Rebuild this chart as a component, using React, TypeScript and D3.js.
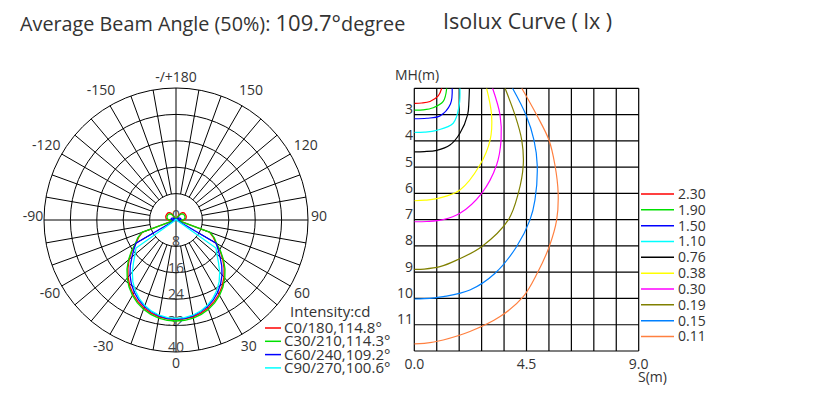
import React, { useEffect, useRef } from 'react';
import * as d3 from 'd3';

// ---- polar intensity data (cd, gamma measured from nadir, 5 degree steps) ----
const gammas = d3.range(0, 185, 5);
const c0 = [30.2, 30.1, 29.8, 29.2, 28.4, 27.3, 26.0, 24.4, 22.6, 20.6, 18.5, 16.3, 14.0, 12.5, 10.8,
  0.8, 0.8, 1.2, 2.2, 2.8, 3.1, 3.2, 3.3, 3.3, 3.3, 3.3, 3.3, 3.1, 2.9, 2.4, 1.6, 0.8, 0.4, 0.2, 0.1, 0.1, 0.1];
const c30 = [30.6, 30.5, 30.2, 29.6, 28.8, 27.7, 26.4, 24.8, 23.0, 21.0, 18.8, 16.5, 14.2, 12.8, 11.0,
  0.8, 0.7, 1.0, 1.8, 2.4, 2.7, 2.8, 2.9, 2.9, 2.9, 2.9, 2.8, 2.6, 2.3, 1.8, 1.2, 0.6, 0.3, 0.2, 0.1, 0.1, 0.1];
const c60 = [30.0, 29.9, 29.5, 28.8, 27.9, 26.7, 25.3, 23.6, 21.7, 19.6, 17.4, 15.6, 14.0,
  0.6, 0.5, 0.5, 0.5, 0.6, 1.0, 1.3, 1.5, 1.5, 1.4, 1.3, 1.1, 0.9, 0.7, 0.5, 0.4, 0.3, 0.2, 0.2, 0.1, 0.1, 0.1, 0.1, 0.1];
const c90 = [29.8, 29.7, 29.3, 28.6, 27.6, 26.3, 24.7, 22.8, 20.6, 18.2, 16.2, 14.8,
  0.5, 0.4, 0.3, 0.3, 0.3, 0.3, 0.3, 0.3, 0.3, 0.3, 0.2, 0.2, 0.2, 0.2, 0.2, 0.1, 0.1, 0.1, 0.1, 0.1, 0.1, 0.1, 0.1, 0.1, 0.1];
const polarSeries = [c0, c30, c60, c90];
const polarNames = ['C0/180,114.8°', 'C30/210,114.3°', 'C60/240,109.2°', 'C90/270,100.6°'];
const polarColors = ['#ff0000', '#00e000', '#0000ff', '#00ffff'];
const ringLabels = [0, 8, 16, 24, 32, 40];
const angleLabels = [0, 30, 60, 90, 120, 150, 180, -150, -120, -90, -60, -30];

// ---- isolux data: [S (m), MH (m)] ----
const lux230 = [[1.10, 2.0], [0.96, 2.29], [0.63, 2.5], [0.3, 2.56], [0, 2.57]];
const lux190 = [[1.30, 2.0], [1.16, 2.5], [0.76, 2.74], [0.35, 2.82], [0, 2.83]];
const lux150 = [[1.52, 2.0], [1.45, 2.6], [1.03, 3.05], [0.5, 3.14], [0, 3.16]];
const lux110 = [[1.83, 2.0], [1.80, 2.65], [1.56, 3.33], [0.9, 3.6], [0.4, 3.67], [0, 3.68]];
const lux076 = [[2.21, 2.0], [2.19, 2.5], [2.14, 3.0], [1.83, 3.71], [1.43, 4.16], [0.9, 4.36], [0.4, 4.41], [0, 4.42]];
const lux038 = [[2.90, 2.0], [3.10, 3.02], [3.04, 3.97], [2.63, 4.92], [1.83, 5.87], [1.0, 6.18], [0.43, 6.26], [0, 6.28]];
const lux030 = [[3.14, 2.0], [3.44, 3.02], [3.48, 3.97], [3.30, 4.92], [2.70, 6.0], [1.83, 6.76], [1.16, 7.0], [0.5, 7.07], [0, 7.08]];
const lux019 = [[3.64, 2.0], [4.04, 3.02], [4.31, 3.97], [4.37, 4.92], [4.17, 6.0], [3.77, 7.01], [2.70, 8.03], [1.70, 8.54], [1.03, 8.79], [0.4, 8.88], [0, 8.89]];
const lux015 = [[3.94, 2.0], [4.48, 3.02], [4.80, 3.97], [4.93, 4.92], [4.84, 6.25], [4.64, 7.01], [4.10, 8.03], [3.24, 9.04], [2.23, 9.68], [1.16, 9.93], [0.4, 10.01], [0, 10.02]];
const lux011 = [[4.31, 2.0], [4.91, 3.02], [5.40, 3.97], [5.64, 4.92], [5.77, 6.0], [5.71, 7.01], [5.41, 8.03], [4.93, 9.04], [4.37, 9.93], [3.44, 10.69], [2.23, 11.26], [1.16, 11.58], [0.4, 11.71], [0, 11.73]];
const isoluxCurves = [lux230, lux190, lux150, lux110, lux076, lux038, lux030, lux019, lux015, lux011];
const isoluxLevels = ['2.30', '1.90', '1.50', '1.10', '0.76', '0.38', '0.30', '0.19', '0.15', '0.11'];
const isoluxColors = ['#ff0000', '#00e000', '#0000ff', '#00ffff', '#000000', '#ffff00', '#ff00ff', '#808000', '#0080ff', '#ff8040'];
const mhTicks = [3, 4, 5, 6, 7, 8, 9, 10, 11];
const sTicks = [0, 4.5, 9];

const FONT = "'Open Sans', sans-serif";
const TEXT = '#333';

const App = () => {
  const ref = useRef<SVGSVGElement>(null);

  useEffect(() => {
    const svg = d3.select(ref.current);
    svg.selectAll('*').remove();

    // titles
    const title = svg.append('text')
      .attr('x', 20).attr('y', 31)
      .style('font-family', FONT).style('font-size', '19.8px').attr('fill', TEXT);
    title.append('tspan').text('Average Beam Angle (50%): ');
    title.append('tspan').style('font-size', '22px').text('109.7°');
    title.append('tspan').text('degree');

    svg.append('text')
      .attr('x', 443).attr('y', 29)
      .style('font-family', FONT).style('font-size', '21.5px').attr('fill', TEXT)
      .text('Isolux Curve ( lx )');

    // ---------- polar diagram ----------
    const cx = 176, cy = 220, R = 132;
    const rScale = d3.scaleLinear().domain([0, 40]).range([0, R]);
    const polar = svg.append('g').attr('transform', `translate(${cx},${cy})`);

    ringLabels.slice(1).forEach(v => {
      polar.append('circle').attr('r', rScale(v))
        .attr('fill', 'none').attr('stroke', '#000').attr('stroke-width', 1);
    });

    d3.range(0, 360, 10).forEach(deg => {
      const a = (deg * Math.PI) / 180;
      const r0 = deg % 90 === 0 ? 0 : rScale(8);
      polar.append('line')
        .attr('x1', r0 * Math.sin(a)).attr('y1', -r0 * Math.cos(a))
        .attr('x2', R * Math.sin(a)).attr('y2', -R * Math.cos(a))
        .attr('stroke', '#000').attr('stroke-width', 1);
    });

    ringLabels.forEach(v => {
      polar.append('text')
        .attr('x', 0).attr('y', rScale(v))
        .attr('text-anchor', 'middle')
        .style('font-family', FONT).style('font-size', '14px').attr('fill', '#444')
        .text(v);
    });

    angleLabels.forEach(v => {
      const phi = ((180 - v) * Math.PI) / 180; // clockwise from top
      const upper = Math.cos(phi) > 0;
      const r = upper ? 143 + 8 * Math.abs(Math.sin(2 * phi)) : 143 + 3 * Math.abs(Math.sin(2 * phi));
      const side = Math.abs(Math.cos(phi)) < 0.1 ? -4 : 0;
      polar.append('text')
        .attr('x', r * Math.sin(phi)).attr('y', -r * Math.cos(phi) + side)
        .attr('dy', '0.35em').attr('text-anchor', 'middle')
        .style('font-family', FONT).style('font-size', '14px').attr('fill', TEXT)
        .text(v === 180 ? '-/+180' : v);
    });

    const radial = d3.lineRadial<{ a: number; v: number }>()
      .angle(d => d.a)
      .radius(d => rScale(d.v));

    polarSeries.forEach((vals, i) => {
      const left = gammas.map((g, j) => ({ a: Math.PI + (g * Math.PI) / 180, v: vals[j] })).reverse();
      const right = gammas.map((g, j) => ({ a: Math.PI - (g * Math.PI) / 180, v: vals[j] }));
      polar.append('path')
        .attr('d', radial(left.concat(right)))
        .attr('fill', 'none').attr('stroke', polarColors[i]).attr('stroke-width', 1.3);
    });

    // polar legend
    svg.append('text')
      .attr('x', 290).attr('y', 317)
      .style('font-family', FONT).style('font-size', '15px').attr('fill', TEXT)
      .text('Intensity:cd');
    polarNames.forEach((name, i) => {
      const y = 328 + i * 13.3;
      svg.append('line').attr('x1', 265).attr('x2', 281).attr('y1', y).attr('y2', y)
        .attr('stroke', polarColors[i]).attr('stroke-width', 1.5);
      svg.append('text').attr('x', 284).attr('y', y + 5)
        .style('font-family', FONT).style('font-size', '15px').attr('fill', TEXT)
        .text(name);
    });

    // ---------- isolux diagram ----------
    const x = d3.scaleLinear().domain([0, 9]).range([414.3, 638.7]);
    const y = d3.scaleLinear().domain([2, 12]).range([88.3, 351]);
    const iso = svg.append('g');

    svg.append('defs').append('clipPath').attr('id', 'isoClip')
      .append('rect')
      .attr('x', x(0)).attr('y', y(2))
      .attr('width', x(9) - x(0)).attr('height', y(12) - y(2));

    d3.range(11).forEach(i => {
      iso.append('line')
        .attr('x1', x(i * 0.9)).attr('x2', x(i * 0.9))
        .attr('y1', y(2)).attr('y2', y(12))
        .attr('stroke', '#000').attr('stroke-width', 1.2);
    });
    d3.range(2, 13).forEach(h => {
      iso.append('line')
        .attr('x1', x(0)).attr('x2', x(9))
        .attr('y1', y(h)).attr('y2', y(h))
        .attr('stroke', '#000').attr('stroke-width', 1.2);
    });

    mhTicks.forEach(h => {
      iso.append('text')
        .attr('x', 413).attr('y', y(h) - 0.5)
        .attr('text-anchor', 'end')
        .style('font-family', FONT).style('font-size', '14px').attr('fill', TEXT)
        .text(h);
    });
    sTicks.forEach(s => {
      iso.append('text')
        .attr('x', x(s)).attr('y', 368.5)
        .attr('text-anchor', 'middle')
        .style('font-family', FONT).style('font-size', '14px').attr('fill', TEXT)
        .text(s.toFixed(1));
    });
    iso.append('text').attr('x', 395).attr('y', 80)
      .style('font-family', FONT).style('font-size', '14px').attr('fill', TEXT)
      .text('MH(m)');
    iso.append('text').attr('x', 638).attr('y', 382)
      .style('font-family', FONT).style('font-size', '14px').attr('fill', TEXT)
      .text('S(m)');

    const contour = d3.line<number[]>()
      .x(d => x(d[0]))
      .y(d => y(d[1]))
      .curve(d3.curveCatmullRom.alpha(0.5));

    const curves = iso.append('g').attr('clip-path', 'url(#isoClip)');
    isoluxCurves.forEach((pts, i) => {
      curves.append('path')
        .attr('d', contour(pts))
        .attr('fill', 'none').attr('stroke', isoluxColors[i]).attr('stroke-width', 1.2);
    });

    isoluxLevels.forEach((lv, i) => {
      const ly = 194 + i * 15.83;
      svg.append('line').attr('x1', 641).attr('x2', 674).attr('y1', ly).attr('y2', ly)
        .attr('stroke', isoluxColors[i]).attr('stroke-width', 1.5);
      svg.append('text').attr('x', 678).attr('y', ly + 5)
        .style('font-family', FONT).style('font-size', '14px').attr('fill', TEXT)
        .text(lv);
    });
  }, []);

  return (
    <svg
      ref={ref}
      width={833}
      height={395}
      style={{ position: 'absolute', left: 0, top: 0, background: '#fff' }}
    />
  );
};

export default App;
